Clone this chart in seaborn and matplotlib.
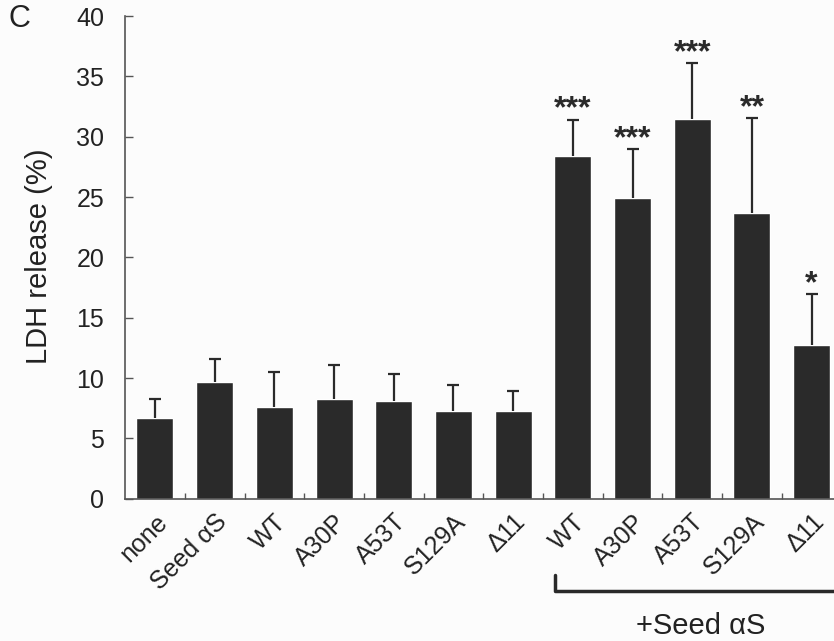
import numpy as np
import pandas as pd
import matplotlib
matplotlib.use("Agg")
import matplotlib.pyplot as plt
import seaborn as sns

labels = ["none", "Seed \u03b1S", "WT", "A30P", "A53T", "S129A", "\u039411",
          "WT", "A30P", "A53T", "S129A", "\u039411"]
ldh = [6.7, 9.65, 7.6, 8.25, 8.1, 7.3, 7.3, 28.4, 24.9, 31.45, 23.65, 12.75]
err = [1.6, 1.9, 2.9, 2.85, 2.2, 2.1, 1.6, 3.0, 4.05, 4.65, 7.9, 4.2]
stars = ["", "", "", "", "", "", "", "***", "***", "***", "**", "*"]

sns.set_style("white")
plt.rcParams["font.family"] = ["Liberation Sans", "DejaVu Sans"]

df = pd.DataFrame({"key": [f"g{i}" for i in range(len(labels))], "ldh": ldh})

fig = plt.figure(figsize=(8.34, 6.41), dpi=100, facecolor="#fcfcfc")
ax = fig.add_axes([0.150, 0.222, 0.859, 0.753])
ax.set_facecolor("#fcfcfc")

sns.barplot(data=df, x="key", y="ldh", color="#2a2a2a", width=0.62,
            saturation=1, errorbar=None, ax=ax)
eb = ax.errorbar(np.arange(len(ldh)), ldh, yerr=[np.zeros(len(err)), err],
                 fmt="none", ecolor="#2a2a2a", elinewidth=1.6, capsize=4.5,
                 capthick=1.6)
eb[1][0].set_visible(False)  # hide the lower cap sitting on the bar top

for i, s in enumerate(stars):
    if s:
        ax.annotate(s, (i, ldh[i] + err[i]), xytext=(0, 1.5),
                    textcoords="offset points", ha="center", va="baseline",
                    fontsize=23, fontweight="bold", color="#2a2a2a")

ax.set_xlim(-0.5, 11.5)
ax.set_ylim(0, 40)
ax.set_yticks(range(0, 41, 5))
ax.tick_params(axis="y", direction="in", length=6, width=1, labelsize=18,
               pad=15, left=True, colors="#555555", labelcolor="#222222")
ax.set_xticks(range(len(labels)))
ax.set_xticklabels(labels, rotation=45, ha="right", rotation_mode="anchor",
                   fontsize=18, color="#222222")
ax.tick_params(axis="x", length=0, pad=8)
ax.set_xticks(np.arange(0.5, 11, 1), minor=True)
ax.tick_params(axis="x", which="minor", direction="in", length=4, width=1,
               bottom=True, colors="#555555")
ax.set_xlabel("")
ax.set_ylabel("")
sns.despine(ax=ax)
for sp in ["left", "bottom"]:
    ax.spines[sp].set_color("#555555")
    ax.spines[sp].set_linewidth(1.2)

fig.text(39 / 834, 1 - 256 / 641, "LDH release (%)", rotation=90,
         ha="center", va="center", fontsize=21, color="#222222")

# bracket under the seeded group
fig.add_artist(plt.Line2D([555 / 834, 555 / 834, 1.0],
                          [1 - 575 / 641, 1 - 591 / 641, 1 - 591 / 641],
                          color="#2a2a2a", lw=2.5, transform=fig.transFigure))
fig.text(701 / 834, 1 - 626 / 641, "+Seed \u03b1S", ha="center", va="center",
         fontsize=21, color="#222222")
fig.text(19 / 834, 1 - 19 / 641, "C", ha="center", va="center", fontsize=22,
         color="#222222")

fig.savefig("out.png", dpi=100, facecolor=fig.get_facecolor())
